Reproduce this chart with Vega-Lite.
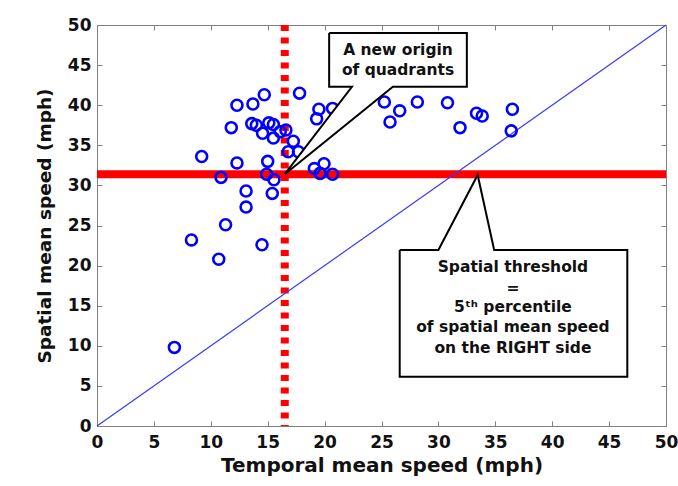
{
  "$schema": "https://vega.github.io/schema/vega-lite/v6.json",
  "width": 569,
  "height": 401,
  "autosize": {"type": "none"},
  "padding": {"left": 97, "top": 25, "right": 12, "bottom": 60},
  "background": "white",
  "config": {
    "font": "DejaVu Sans",
    "view": {"stroke": "#808080", "strokeWidth": 1},
    "axis": {
      "grid": false,
      "domainColor": "#808080",
      "tickColor": "#808080",
      "tickSize": -5,
      "labelFont": "DejaVu Sans",
      "labelFontWeight": "bold",
      "labelFontSize": 17,
      "labelColor": "#111111",
      "titleFont": "DejaVu Sans",
      "titleFontWeight": "bold",
      "titleFontSize": 20,
      "titleColor": "#111111"
    }
  },
  "resolve": {"axis": {"x": "independent", "y": "independent"}},
  "datasets": {
    "points": [
      {"t": 6.8, "s": 9.8}, {"t": 8.3, "s": 23.2}, {"t": 10.7, "s": 20.8}, {"t": 11.3, "s": 25.1},
      {"t": 9.2, "s": 33.6}, {"t": 10.9, "s": 31.0}, {"t": 12.3, "s": 32.8}, {"t": 13.1, "s": 29.3},
      {"t": 13.1, "s": 27.3}, {"t": 14.5, "s": 22.6}, {"t": 15.0, "s": 33.0}, {"t": 14.9, "s": 31.4},
      {"t": 15.55, "s": 30.7}, {"t": 15.4, "s": 29.0}, {"t": 11.8, "s": 37.2}, {"t": 12.3, "s": 40.0},
      {"t": 13.7, "s": 40.15}, {"t": 14.7, "s": 41.3}, {"t": 13.6, "s": 37.7}, {"t": 14.0, "s": 37.5},
      {"t": 15.1, "s": 37.8}, {"t": 15.5, "s": 37.6}, {"t": 14.55, "s": 36.5}, {"t": 15.5, "s": 35.9},
      {"t": 16.1, "s": 36.7}, {"t": 16.6, "s": 36.9}, {"t": 17.25, "s": 35.5}, {"t": 16.8, "s": 34.2},
      {"t": 17.7, "s": 34.2}, {"t": 17.8, "s": 41.5}, {"t": 19.5, "s": 39.5}, {"t": 19.3, "s": 38.3},
      {"t": 20.7, "s": 39.6}, {"t": 21.4, "s": 38.4}, {"t": 22.4, "s": 39.2}, {"t": 22.9, "s": 40.0},
      {"t": 19.1, "s": 32.1}, {"t": 19.95, "s": 32.7}, {"t": 19.6, "s": 31.5}, {"t": 20.7, "s": 31.4},
      {"t": 25.25, "s": 40.4}, {"t": 26.6, "s": 39.3}, {"t": 25.75, "s": 37.9}, {"t": 28.15, "s": 40.4},
      {"t": 30.8, "s": 40.3}, {"t": 31.9, "s": 37.2}, {"t": 33.35, "s": 39.0}, {"t": 33.85, "s": 38.65},
      {"t": 36.5, "s": 39.5}, {"t": 36.4, "s": 36.8}
    ],
    "diag": [{"t": 0, "s": 0}, {"t": 50, "s": 50}],
    "thresholds": [{"xt": 16.5, "ys": 31.4}],
    "callout1": [
      {"i": 0, "t": 20.4, "s": 49.0}, {"i": 1, "t": 32.5, "s": 49.0}, {"i": 2, "t": 32.5, "s": 42.3},
      {"i": 3, "t": 26.0, "s": 42.3}, {"i": 4, "t": 16.5, "s": 31.4}, {"i": 5, "t": 22.4, "s": 42.3},
      {"i": 6, "t": 20.4, "s": 42.3}, {"i": 7, "t": 20.4, "s": 49.0}
    ],
    "callout2": [
      {"i": 0, "t": 26.6, "s": 21.95}, {"i": 1, "t": 30.0, "s": 21.95}, {"i": 2, "t": 33.45, "s": 31.3},
      {"i": 3, "t": 34.9, "s": 21.95}, {"i": 4, "t": 46.6, "s": 21.95}, {"i": 5, "t": 46.6, "s": 6.15},
      {"i": 6, "t": 26.6, "s": 6.15}, {"i": 7, "t": 26.6, "s": 21.95}
    ],
    "labels": [
      {"t": 26.45, "s": 46.85, "label": "A new origin"},
      {"t": 26.45, "s": 44.4, "label": "of quadrants"},
      {"t": 36.55, "s": 19.86, "label": "Spatial threshold"},
      {"t": 36.55, "s": 17.2, "label": "="},
      {"t": 36.55, "s": 14.84, "label": "5ᵗʰ percentile"},
      {"t": 36.55, "s": 12.38, "label": "of spatial mean speed"},
      {"t": 36.55, "s": 9.73, "label": "on the RIGHT side"}
    ]
  },
  "layer": [
    {
      "data": {"name": "thresholds"},
      "mark": {"type": "rule", "color": "#ff0000", "strokeWidth": 8},
      "encoding": {"y": {"field": "ys", "type": "quantitative", "scale": {"domain": [0, 50]}, "axis": null}}
    },
    {
      "data": {"name": "thresholds"},
      "mark": {"type": "rule", "color": "#ff0000", "strokeWidth": 8, "strokeDash": [6, 6.5]},
      "encoding": {"x": {"field": "xt", "type": "quantitative", "scale": {"domain": [0, 50]}, "axis": null}}
    },
    {
      "data": {"name": "diag"},
      "mark": {"type": "line", "color": "#3a3aff", "strokeWidth": 1.2},
      "encoding": {
        "x": {"field": "t", "type": "quantitative", "scale": {"domain": [0, 50]}, "axis": null},
        "y": {"field": "s", "type": "quantitative", "scale": {"domain": [0, 50]}, "axis": null}
      }
    },
    {
      "data": {"name": "points"},
      "mark": {"type": "point", "shape": "circle", "filled": false, "color": "#0000ff", "strokeWidth": 2.6, "size": 120, "opacity": 1},
      "encoding": {
        "x": {"field": "t", "type": "quantitative", "scale": {"domain": [0, 50], "nice": false},
              "axis": {"title": "Temporal mean speed (mph)", "values": [0,5,10,15,20,25,30,35,40,45,50], "labelPadding": 13, "titlePadding": 5, "labelFlush": false}},
        "y": {"field": "s", "type": "quantitative", "scale": {"domain": [0, 50], "nice": false},
              "axis": {"title": "Spatial mean speed (mph)", "titleFontSize": 18.5, "values": [0,5,10,15,20,25,30,35,40,45,50], "labelPadding": 11, "titlePadding": 13, "labelFlush": false}}
      }
    },
    {
      "data": {"name": "points"},
      "mark": {"type": "point", "opacity": 0},
      "encoding": {
        "x": {"field": "t", "type": "quantitative", "axis": {"orient": "top", "labels": false, "title": null, "domain": false, "values": [0,5,10,15,20,25,30,35,40,45,50]}},
        "y": {"field": "s", "type": "quantitative", "axis": {"orient": "right", "labels": false, "title": null, "domain": false, "values": [0,5,10,15,20,25,30,35,40,45,50]}}
      }
    },
    {
      "data": {"name": "callout1"},
      "mark": {"type": "line", "stroke": "#000000", "fill": "white", "strokeWidth": 2, "strokeJoin": "miter"},
      "encoding": {
        "x": {"field": "t", "type": "quantitative", "axis": null},
        "y": {"field": "s", "type": "quantitative", "axis": null},
        "order": {"field": "i", "type": "quantitative"}
      }
    },
    {
      "data": {"name": "callout2"},
      "mark": {"type": "line", "stroke": "#000000", "fill": "white", "strokeWidth": 2, "strokeJoin": "miter"},
      "encoding": {
        "x": {"field": "t", "type": "quantitative", "axis": null},
        "y": {"field": "s", "type": "quantitative", "axis": null},
        "order": {"field": "i", "type": "quantitative"}
      }
    },
    {
      "data": {"name": "labels"},
      "mark": {"type": "text", "font": "DejaVu Sans", "fontWeight": "bold", "fontSize": 15.5, "color": "#111111", "align": "center", "baseline": "middle"},
      "encoding": {
        "x": {"field": "t", "type": "quantitative", "axis": null},
        "y": {"field": "s", "type": "quantitative", "axis": null},
        "text": {"field": "label"}
      }
    }
  ]
}
